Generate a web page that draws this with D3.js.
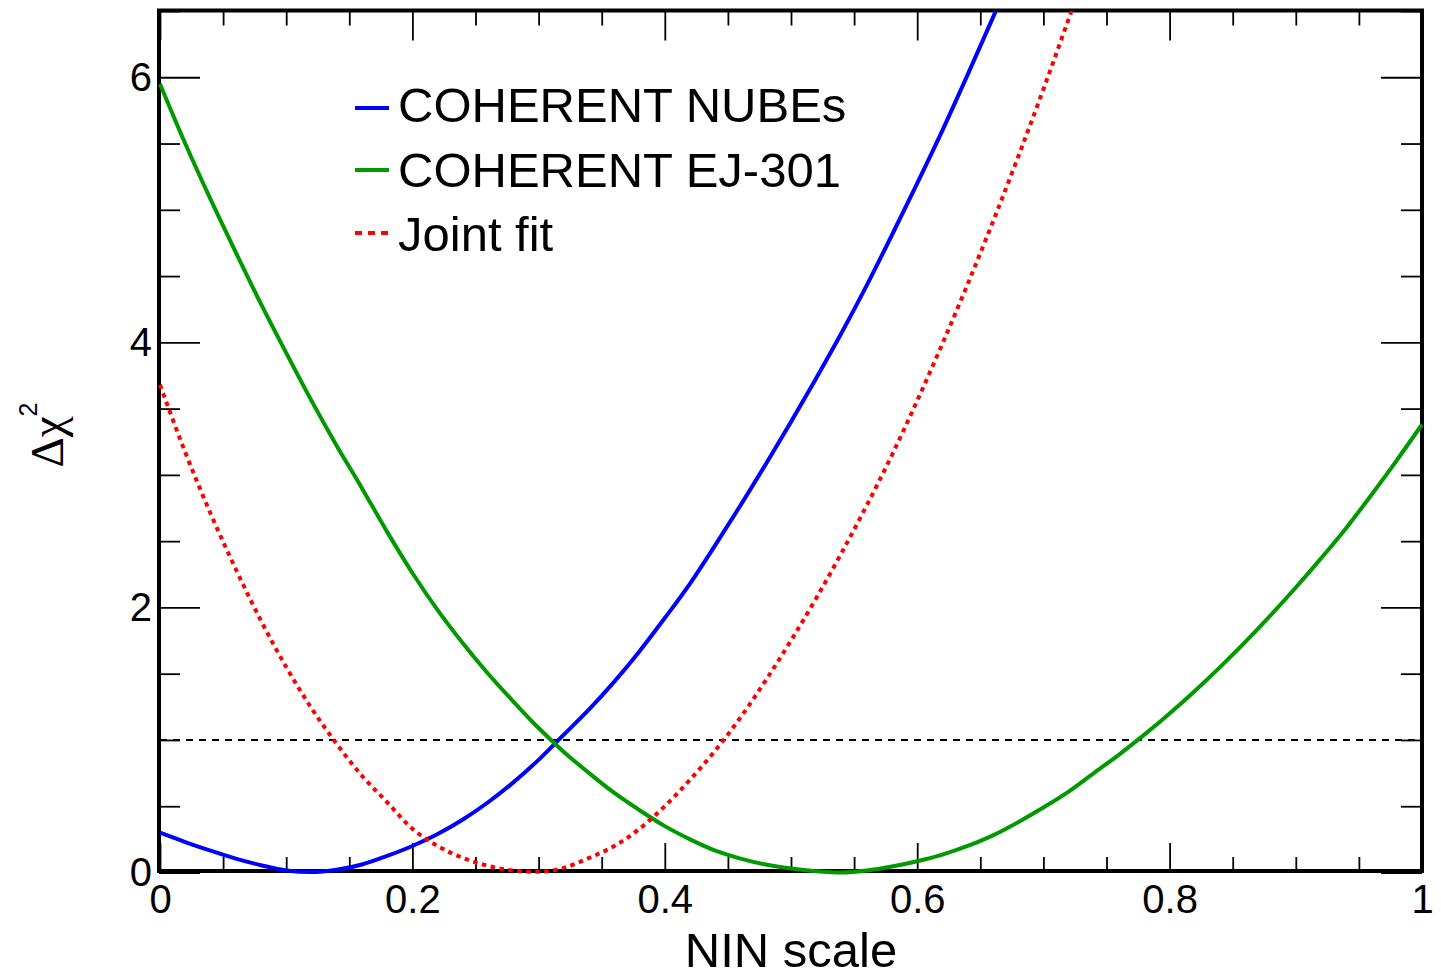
<!DOCTYPE html>
<html>
<head>
<meta charset="utf-8">
<script src="https://cdn.jsdelivr.net/npm/d3@7"></script>
<style>
  html, body { margin: 0; padding: 0; background: #fff; }
  svg { display: block; }
  text { font-family: "Liberation Sans", Arial, Helvetica, sans-serif; fill: #000; }
</style>
</head>
<body>
<svg id="chart" width="1441" height="976"></svg>
<script>
// ---------------- data ----------------
const nubesX = [0, 0.02, 0.04, 0.06, 0.08, 0.10, 0.12, 0.14, 0.16, 0.18, 0.20, 0.22, 0.24, 0.26, 0.28, 0.30, 0.32, 0.34, 0.36, 0.38, 0.40, 0.42, 0.44, 0.46, 0.48, 0.50, 0.52, 0.54, 0.56, 0.58, 0.60, 0.62, 0.64, 0.66, 0.67];
const nubesY = [0.30, 0.23, 0.165, 0.105, 0.055, 0.015, 0.003, 0.02, 0.06, 0.125, 0.20, 0.29, 0.40, 0.53, 0.68, 0.85, 1.04, 1.23, 1.44, 1.67, 1.92, 2.18, 2.47, 2.77, 3.08, 3.40, 3.73, 4.07, 4.43, 4.81, 5.20, 5.60, 6.02, 6.45, 6.67];

const ej301X = [0, 0.02, 0.04, 0.06, 0.08, 0.10, 0.12, 0.14, 0.16, 0.18, 0.20, 0.22, 0.24, 0.26, 0.28, 0.30, 0.32, 0.34, 0.36, 0.38, 0.40, 0.42, 0.44, 0.46, 0.48, 0.50, 0.52, 0.54, 0.56, 0.58, 0.60, 0.62, 0.64, 0.66, 0.68, 0.70, 0.72, 0.74, 0.76, 0.78, 0.80, 0.82, 0.84, 0.86, 0.88, 0.90, 0.92, 0.94, 0.96, 0.98, 1.00];
const ej301Y = [5.95, 5.50, 5.08, 4.68, 4.29, 3.92, 3.56, 3.22, 2.90, 2.57, 2.26, 1.98, 1.73, 1.50, 1.29, 1.09, 0.91, 0.75, 0.60, 0.47, 0.35, 0.25, 0.165, 0.105, 0.06, 0.03, 0.01, 0.00, 0.015, 0.045, 0.085, 0.135, 0.20, 0.28, 0.38, 0.49, 0.61, 0.75, 0.89, 1.04, 1.20, 1.37, 1.55, 1.74, 1.94, 2.15, 2.37, 2.60, 2.85, 3.11, 3.38];

const jointX = [0, 0.02, 0.04, 0.06, 0.08, 0.10, 0.12, 0.14, 0.16, 0.18, 0.20, 0.22, 0.24, 0.26, 0.28, 0.30, 0.32, 0.34, 0.36, 0.38, 0.40, 0.42, 0.44, 0.46, 0.48, 0.50, 0.52, 0.54, 0.56, 0.58, 0.60, 0.62, 0.64, 0.66, 0.68, 0.70, 0.72, 0.73];
const jointY = [3.68, 3.17, 2.71, 2.29, 1.90, 1.55, 1.24, 0.97, 0.73, 0.53, 0.33, 0.20, 0.11, 0.05, 0.015, 0.005, 0.035, 0.11, 0.20, 0.33, 0.50, 0.70, 0.92, 1.17, 1.45, 1.75, 2.07, 2.41, 2.77, 3.15, 3.56, 3.99, 4.44, 4.91, 5.40, 5.91, 6.44, 6.71];

const seriesNames = ["COHERENT NUBEs", "COHERENT EJ-301", "Joint fit"];
const seriesColors = ["#0000ff", "#009900", "#ff0000"];
const refLevel = [1];

const xDomain = [0, 1];
const yDomain = [0, 6.5];
const xMajorTicks = [0, 0.2, 0.4, 0.6, 0.8, 1];
const yMajorTicks = [0, 2, 4, 6];
const xTitle = "NIN scale";

// ---------------- layout ----------------
const svg = d3.select("#chart");
const L = 160, R = 1422, T = 11, B = 872.5;
const x = d3.scaleLinear().domain(xDomain).range([L, R]);
const y = d3.scaleLinear().domain(yDomain).range([B, T]);

const xMinor = d3.range(0, 1.0001, 0.05).map(v => +v.toFixed(2)).filter(v => !xMajorTicks.some(m => Math.abs(m - v) < 1e-6));
const yMinor = d3.range(0, 6.5001, 0.5).map(v => +v.toFixed(2)).filter(v => !yMajorTicks.some(m => Math.abs(m - v) < 1e-6));

const fmt = d => d3.format("~g")(d);

function styleTicks(g) {
  g.select(".domain").remove();
  g.selectAll(".tick line").attr("stroke", "#000").attr("stroke-width", 1.8);
}

// frame
svg.append("rect")
  .attr("x", 159).attr("y", 10.5)
  .attr("width", 1422 - 159).attr("height", 871 - 10.5)
  .attr("fill", "none").attr("stroke", "#000").attr("stroke-width", 4);

// x ticks bottom & top
svg.append("g").attr("transform", "translate(0,871)")
  .call(d3.axisBottom(x).tickValues(xMajorTicks).tickSize(-28).tickFormat(""))
  .call(styleTicks);
svg.append("g").attr("transform", "translate(0,871)")
  .call(d3.axisBottom(x).tickValues(xMinor).tickSize(-14).tickFormat(""))
  .call(styleTicks);
svg.append("g").attr("transform", "translate(0,10.5)")
  .call(d3.axisTop(x).tickValues(xMajorTicks).tickSize(-30).tickFormat(""))
  .call(styleTicks);
svg.append("g").attr("transform", "translate(0,10.5)")
  .call(d3.axisTop(x).tickValues(xMinor).tickSize(-15).tickFormat(""))
  .call(styleTicks);

// y ticks left & right
svg.append("g").attr("transform", "translate(159,0)")
  .call(d3.axisLeft(y).tickValues(yMajorTicks).tickSize(-41).tickFormat(""))
  .call(styleTicks);
svg.append("g").attr("transform", "translate(159,0)")
  .call(d3.axisLeft(y).tickValues(yMinor).tickSize(-21).tickFormat(""))
  .call(styleTicks);
svg.append("g").attr("transform", "translate(1422,0)")
  .call(d3.axisRight(y).tickValues(yMajorTicks).tickSize(-41).tickFormat(""))
  .call(styleTicks);
svg.append("g").attr("transform", "translate(1422,0)")
  .call(d3.axisRight(y).tickValues(yMinor).tickSize(-21).tickFormat(""))
  .call(styleTicks);

// tick labels
const xLab = svg.append("g").attr("transform", "translate(0,871)")
  .call(d3.axisBottom(x).tickValues(xMajorTicks).tickSize(0).tickPadding(14).tickFormat(fmt));
xLab.select(".domain").remove();
xLab.selectAll("text").style("font-size", "40px").style("font-family", "Liberation Sans, Arial, sans-serif").attr("fill", "#000");

const yLab = svg.append("g").attr("transform", "translate(159,0)")
  .call(d3.axisLeft(y).tickValues(yMajorTicks).tickSize(0).tickPadding(7).tickFormat(fmt));
yLab.select(".domain").remove();
yLab.selectAll("text").style("font-size", "40px").style("font-family", "Liberation Sans, Arial, sans-serif").attr("fill", "#000");

// axis titles
svg.append("text")
  .attr("x", (L + R) / 2).attr("y", 967)
  .attr("text-anchor", "middle")
  .style("font-size", "49px")
  .text(xTitle);

const yt = svg.append("text")
  .attr("transform", "translate(63,435) rotate(-90)")
  .attr("text-anchor", "middle");
yt.append("tspan").style("font-family", "Liberation Serif, DejaVu Serif, serif").style("font-size", "47px").text("\u0394\u03C7");
yt.append("tspan").style("font-size", "25px").attr("dy", -26).text("2");

// clip for curves
svg.append("defs").append("clipPath").attr("id", "plotclip")
  .append("rect").attr("x", 157).attr("y", T).attr("width", R - 157 + 2).attr("height", 878 - T);

const plot = svg.append("g").attr("clip-path", "url(#plotclip)");

// reference line at delta chi2 = 1
plot.selectAll("line.ref").data(refLevel).enter().append("line")
  .attr("class", "ref")
  .attr("x1", x(0)).attr("x2", x(1))
  .attr("y1", d => y(d)).attr("y2", d => y(d))
  .attr("stroke", "#000").attr("stroke-width", 2)
  .attr("stroke-dasharray", "7,6");

const line = d3.line().x(d => x(d[0])).y(d => y(d[1])).curve(d3.curveMonotoneX);

const series = [
  { pts: d3.zip(nubesX, nubesY), color: seriesColors[0], dash: null },
  { pts: d3.zip(ej301X, ej301Y), color: seriesColors[1], dash: null },
  { pts: d3.zip(jointX, jointY), color: seriesColors[2], dash: "4.5,4.5" }
];

series.forEach(s => {
  plot.append("path")
    .datum(s.pts)
    .attr("d", line)
    .attr("fill", "none")
    .attr("stroke", s.color)
    .attr("stroke-width", 4)
    .attr("stroke-linejoin", "round")
    .attr("stroke-dasharray", s.dash);
});

// legend
const legY = [108, 170, 233];
const legBase = [122, 187, 251];
const legend = svg.append("g");
seriesNames.forEach((name, i) => {
  legend.append("line")
    .attr("x1", 355).attr("x2", 389)
    .attr("y1", legY[i]).attr("y2", legY[i])
    .attr("stroke", seriesColors[i]).attr("stroke-width", 4)
    .attr("stroke-dasharray", i === 2 ? "7,6" : null);
  legend.append("text")
    .attr("x", 398).attr("y", legBase[i])
    .style("font-size", "49px")
    .text(name);
});
</script>
</body>
</html>
